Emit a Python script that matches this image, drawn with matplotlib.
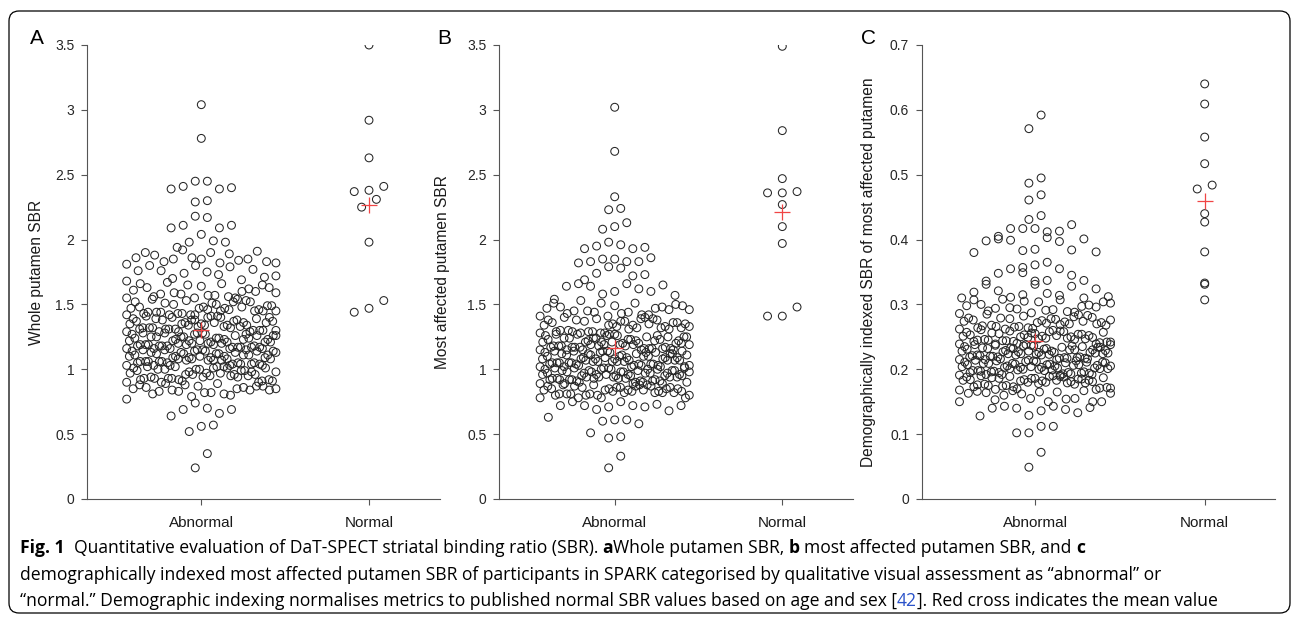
import numpy as np
import matplotlib
matplotlib.use("Agg")
import matplotlib.pyplot as plt
from matplotlib.patches import FancyBboxPatch
from matplotlib.transforms import IdentityTransform

# ---------------- data ----------------
categories = ["Abnormal", "Normal"]

whole_abnormal = [
    3.04, 2.78, 2.45, 2.45, 2.41, 2.40, 2.39, 2.39, 2.30, 2.29, 2.18, 2.17, 2.11, 2.11, 2.09, 2.09,
    2.04, 1.99, 1.98, 1.98, 1.94, 1.92, 1.91, 1.90, 1.90,
    1.89, 1.88, 1.86, 1.86, 1.85, 1.85, 1.85, 1.84, 1.83, 1.83, 1.82, 1.82, 1.81, 1.80, 1.80,
    1.79, 1.77, 1.76, 1.76, 1.75, 1.74, 1.73, 1.72, 1.71, 1.70,
    1.69, 1.68, 1.67, 1.66, 1.66, 1.65, 1.65, 1.64, 1.63, 1.63, 1.62, 1.61, 1.60, 1.60,
    1.59, 1.59, 1.58, 1.58, 1.57, 1.57, 1.56, 1.56, 1.55, 1.55, 1.55, 1.54, 1.54, 1.53, 1.53, 1.52,
    1.52, 1.52, 1.51, 1.51, 1.50, 1.50,
    1.49, 1.49, 1.48, 1.48, 1.48, 1.47, 1.47, 1.47, 1.46, 1.46, 1.46, 1.45, 1.45, 1.45, 1.45, 1.44,
    1.44, 1.44, 1.43, 1.43, 1.43, 1.42, 1.42, 1.42, 1.42, 1.41, 1.41, 1.41, 1.40, 1.40, 1.40, 1.40,
    1.39, 1.39, 1.39, 1.38, 1.38, 1.38, 1.38, 1.37, 1.37, 1.37, 1.36, 1.36, 1.36, 1.36, 1.35, 1.35,
    1.35, 1.34, 1.34, 1.34, 1.34, 1.33, 1.33, 1.33, 1.32, 1.32, 1.32, 1.32, 1.31, 1.31, 1.31, 1.31,
    1.30, 1.30, 1.30, 1.30,
    1.29, 1.29, 1.29, 1.29, 1.28, 1.28, 1.28, 1.28, 1.27, 1.27, 1.27, 1.27, 1.26, 1.26, 1.26, 1.26,
    1.25, 1.25, 1.25, 1.25, 1.24, 1.24, 1.24, 1.24, 1.23, 1.23, 1.23, 1.23, 1.22, 1.22, 1.22, 1.22,
    1.21, 1.21, 1.21, 1.21, 1.20, 1.20, 1.20, 1.20,
    1.19, 1.19, 1.19, 1.19, 1.19, 1.18, 1.18, 1.18, 1.18, 1.18, 1.17, 1.17, 1.17, 1.17, 1.17, 1.16,
    1.16, 1.16, 1.16, 1.16, 1.15, 1.15, 1.15, 1.15, 1.15, 1.14, 1.14, 1.14, 1.14, 1.14, 1.13, 1.13,
    1.13, 1.13, 1.12, 1.12, 1.12, 1.12, 1.11, 1.11, 1.11, 1.11, 1.10, 1.10, 1.10, 1.10,
    1.09, 1.09, 1.09, 1.09, 1.08, 1.08, 1.08, 1.08, 1.07, 1.07, 1.07, 1.07, 1.06, 1.06, 1.06, 1.06,
    1.06, 1.05, 1.05, 1.05, 1.05, 1.04, 1.04, 1.04, 1.04, 1.03, 1.03, 1.03, 1.03, 1.03, 1.02, 1.02,
    1.02, 1.02, 1.01, 1.01, 1.01, 1.01, 1.00, 1.00, 1.00, 1.00,
    0.99, 0.99, 0.99, 0.98, 0.98, 0.98, 0.97, 0.97, 0.97, 0.96, 0.96, 0.96, 0.96, 0.95, 0.95, 0.95,
    0.94, 0.94, 0.94, 0.93, 0.93, 0.93, 0.93, 0.92, 0.92, 0.92, 0.91, 0.91, 0.91, 0.90, 0.90, 0.90,
    0.89, 0.89, 0.88, 0.88, 0.87, 0.87, 0.87, 0.86, 0.86, 0.85, 0.85, 0.85, 0.84, 0.84, 0.84, 0.83,
    0.83, 0.82, 0.82, 0.81, 0.81, 0.80,
    0.79, 0.77, 0.74, 0.70, 0.69, 0.69, 0.66, 0.64, 0.57, 0.56, 0.52, 0.35, 0.24,
]
whole_normal = [3.50, 2.92, 2.63, 2.41, 2.38, 2.37, 2.31, 2.25, 1.98, 1.53, 1.47, 1.44]

most_abnormal = [
    3.02, 2.68, 2.33, 2.24, 2.23, 2.13, 2.10, 2.08, 1.98, 1.96, 1.95, 1.94, 1.93, 1.93, 1.86, 1.85,
    1.85, 1.83, 1.83, 1.83, 1.82, 1.79, 1.78, 1.74, 1.73, 1.72, 1.69, 1.66, 1.66, 1.65, 1.64, 1.64,
    1.62, 1.60, 1.60, 1.58, 1.57, 1.54, 1.53, 1.51, 1.51, 1.51, 1.50,
    1.49, 1.49, 1.48, 1.48, 1.47, 1.47, 1.46, 1.46, 1.45, 1.45, 1.44, 1.44, 1.43, 1.43, 1.42, 1.42,
    1.41, 1.41, 1.40, 1.40,
    1.39, 1.39, 1.39, 1.38, 1.38, 1.38, 1.37, 1.37, 1.37, 1.36, 1.36, 1.36, 1.35, 1.35, 1.35, 1.34,
    1.34, 1.34, 1.33, 1.33, 1.33, 1.32, 1.32, 1.32, 1.31, 1.31, 1.30, 1.30,
    1.29, 1.29, 1.29, 1.29, 1.28, 1.28, 1.28, 1.28, 1.27, 1.27, 1.27, 1.27, 1.26, 1.26, 1.26, 1.26,
    1.25, 1.25, 1.25, 1.25, 1.24, 1.24, 1.24, 1.24, 1.23, 1.23, 1.23, 1.23, 1.22, 1.22, 1.22, 1.22,
    1.21, 1.21, 1.21, 1.21, 1.20, 1.20, 1.20, 1.20,
    1.19, 1.19, 1.19, 1.19, 1.19, 1.18, 1.18, 1.18, 1.18, 1.18, 1.17, 1.17, 1.17, 1.17, 1.17, 1.16,
    1.16, 1.16, 1.16, 1.16, 1.15, 1.15, 1.15, 1.15, 1.15, 1.14, 1.14, 1.14, 1.14, 1.14, 1.13, 1.13,
    1.13, 1.13, 1.13, 1.12, 1.12, 1.12, 1.12, 1.12, 1.11, 1.11, 1.11, 1.11, 1.10, 1.10, 1.10, 1.10,
    1.09, 1.09, 1.09, 1.09, 1.09, 1.08, 1.08, 1.08, 1.08, 1.08, 1.07, 1.07, 1.07, 1.07, 1.07, 1.06,
    1.06, 1.06, 1.06, 1.06, 1.05, 1.05, 1.05, 1.05, 1.05, 1.04, 1.04, 1.04, 1.04, 1.04, 1.03, 1.03,
    1.03, 1.03, 1.03, 1.02, 1.02, 1.02, 1.02, 1.02, 1.01, 1.01, 1.01, 1.01, 1.01, 1.00, 1.00, 1.00,
    1.00, 1.00,
    0.99, 0.99, 0.99, 0.99, 0.99, 0.98, 0.98, 0.98, 0.98, 0.98, 0.97, 0.97, 0.97, 0.97, 0.97, 0.96,
    0.96, 0.96, 0.96, 0.96, 0.95, 0.95, 0.95, 0.95, 0.95, 0.94, 0.94, 0.94, 0.94, 0.94, 0.93, 0.93,
    0.93, 0.93, 0.93, 0.92, 0.92, 0.92, 0.92, 0.92, 0.91, 0.91, 0.91, 0.91, 0.90, 0.90, 0.90, 0.90,
    0.89, 0.89, 0.89, 0.89, 0.88, 0.88, 0.88, 0.88, 0.87, 0.87, 0.87, 0.87, 0.86, 0.86, 0.86, 0.86,
    0.85, 0.85, 0.85, 0.85, 0.84, 0.84, 0.84, 0.84, 0.83, 0.83, 0.83, 0.83, 0.82, 0.82, 0.82, 0.82,
    0.81, 0.81, 0.81, 0.81, 0.80, 0.80, 0.80, 0.80,
    0.78, 0.78, 0.78, 0.78, 0.75, 0.75, 0.73, 0.72, 0.72, 0.72, 0.72, 0.71, 0.71, 0.69, 0.68, 0.63,
    0.61, 0.61, 0.60, 0.58, 0.51, 0.48, 0.47, 0.33, 0.24,
]
most_normal = [3.49, 2.84, 2.47, 2.36, 2.36, 2.37, 2.27, 2.10, 1.97, 1.48, 1.41, 1.41]

demo_abnormal = [
    0.592, 0.571, 0.495, 0.487, 0.469, 0.461, 0.437, 0.431, 0.423, 0.417, 0.417, 0.417, 0.413, 0.412,
    0.405, 0.403, 0.401, 0.401, 0.399, 0.398, 0.397, 0.385, 0.384, 0.383, 0.381, 0.380, 0.365, 0.361,
    0.357, 0.355, 0.355, 0.349, 0.348, 0.345, 0.337, 0.337, 0.336, 0.336, 0.331, 0.331, 0.328, 0.324,
    0.321,
    0.319, 0.317, 0.315, 0.314, 0.312, 0.311, 0.310, 0.310, 0.308, 0.307, 0.307, 0.305, 0.304, 0.304,
    0.302, 0.300,
    0.299, 0.298, 0.297, 0.296, 0.295, 0.294, 0.293, 0.292, 0.291, 0.290, 0.289, 0.288, 0.287, 0.286,
    0.285, 0.284, 0.283, 0.282, 0.281, 0.280,
    0.279, 0.279, 0.278, 0.278, 0.277, 0.276, 0.276, 0.275, 0.274, 0.274, 0.273, 0.272, 0.272, 0.271,
    0.270, 0.270, 0.269, 0.268, 0.268, 0.267, 0.266, 0.266, 0.265, 0.264, 0.264, 0.263, 0.262, 0.262,
    0.261, 0.260,
    0.259, 0.259, 0.258, 0.258, 0.257, 0.257, 0.256, 0.256, 0.255, 0.255, 0.254, 0.254, 0.253, 0.253,
    0.252, 0.252, 0.251, 0.251, 0.250, 0.250, 0.249, 0.249, 0.248, 0.248, 0.247, 0.247, 0.246, 0.246,
    0.245, 0.245, 0.244, 0.244, 0.243, 0.243, 0.242, 0.242, 0.241, 0.240,
    0.239, 0.239, 0.239, 0.238, 0.238, 0.238, 0.237, 0.237, 0.236, 0.236, 0.236, 0.235, 0.235, 0.234,
    0.234, 0.234, 0.233, 0.233, 0.232, 0.232, 0.232, 0.231, 0.231, 0.230, 0.230, 0.230, 0.229, 0.229,
    0.228, 0.228, 0.228, 0.227, 0.227, 0.226, 0.226, 0.226, 0.225, 0.225, 0.224, 0.224, 0.224, 0.223,
    0.223, 0.222, 0.222, 0.222, 0.221, 0.221, 0.220, 0.220,
    0.219, 0.219, 0.219, 0.218, 0.218, 0.217, 0.217, 0.217, 0.216, 0.216, 0.215, 0.215, 0.215, 0.214,
    0.214, 0.213, 0.213, 0.213, 0.212, 0.212, 0.211, 0.211, 0.211, 0.210, 0.210, 0.209, 0.209, 0.209,
    0.208, 0.208, 0.207, 0.207, 0.207, 0.206, 0.206, 0.205, 0.205, 0.205, 0.204, 0.204, 0.203, 0.203,
    0.203, 0.202, 0.202, 0.201, 0.201, 0.201, 0.200, 0.200,
    0.199, 0.199, 0.198, 0.198, 0.198, 0.197, 0.197, 0.196, 0.196, 0.195, 0.195, 0.195, 0.194, 0.194,
    0.193, 0.193, 0.192, 0.192, 0.192, 0.191, 0.191, 0.190, 0.190, 0.189, 0.189, 0.189, 0.188, 0.188,
    0.187, 0.187, 0.186, 0.186, 0.186, 0.185, 0.185, 0.184, 0.184, 0.183, 0.183, 0.183, 0.182, 0.182,
    0.181, 0.181, 0.180, 0.180,
    0.179, 0.179, 0.178, 0.177, 0.177, 0.176, 0.175, 0.175, 0.174, 0.173, 0.173, 0.172, 0.171, 0.171,
    0.170, 0.169, 0.169, 0.168, 0.167, 0.167, 0.166, 0.165, 0.165, 0.164, 0.163, 0.162,
    0.163, 0.160, 0.155, 0.155, 0.154, 0.153, 0.150, 0.150, 0.150, 0.150, 0.143, 0.143, 0.141, 0.140,
    0.140, 0.138, 0.136, 0.133, 0.129, 0.128, 0.112, 0.112, 0.102, 0.102, 0.072, 0.049,
]
demo_normal = [0.640, 0.609, 0.558, 0.517, 0.484, 0.478, 0.440, 0.427, 0.381, 0.333, 0.331, 0.307]

panel_letters = ["A", "B", "C"]
y_labels = ["Whole putamen SBR", "Most affected putamen SBR",
            "Demographically indexed SBR of most affected putamen"]
sbr_ticks = [0, 0.5, 1, 1.5, 2, 2.5, 3, 3.5]
sbr_tick_labels = ["0", "0.5", "1", "1.5", "2", "2.5", "3", "3.5"]
demo_ticks = [0, 0.1, 0.2, 0.3, 0.4, 0.5, 0.6, 0.7]
demo_tick_labels = ["0", "0.1", "0.2", "0.3", "0.4", "0.5", "0.6", "0.7"]

panels = [
    dict(abn=whole_abnormal, nor=whole_normal, ticks=sbr_ticks, tlabels=sbr_tick_labels, ymax=3.5),
    dict(abn=most_abnormal, nor=most_normal, ticks=sbr_ticks, tlabels=sbr_tick_labels, ymax=3.5),
    dict(abn=demo_abnormal, nor=demo_normal, ticks=demo_ticks, tlabels=demo_tick_labels, ymax=0.7),
]

# ---------------- layout (pixels) ----------------
W, H = 1292, 618
AX_TOP, AX_BOT = 45, 499
# left edge, right edge, pixel position of category 1 and 2
layout = [(87, 440, 201.3, 369.0), (499, 853, 614.7, 782.3), (921.7, 1275, 1035.0, 1204.7)]
letter_pos = [(37, 39), (444, 39), (869, 39)]
ylabel_x = [44, 450, 876]

AX_FONT = "Liberation Sans"
CAP_FONT = "Open Sans"


def spread_x(values, center, vmin, binw, step, wmax):
    """plotSpread-like layout: values binned, points spread across x inside each bin."""
    v = np.asarray(values, dtype=float)
    x = np.full(v.size, float(center))
    idx = np.floor((v - vmin) / binw + 1e-9).astype(int)
    for b in np.unique(idx):
        mem = np.where(idx == b)[0]
        n = mem.size
        if n < 2:
            continue
        w = min(wmax, (n - 1) * step)
        slots = np.linspace(-w / 2, w / 2, n)
        k = np.arange(n)
        # deterministic, irregular slot order (quadratic low-discrepancy sequence)
        perm = np.argsort((0.5 * k * k * 0.6180339887 + 0.31 * k) % 1.0, kind="stable")
        mem_sorted = mem[np.argsort(v[mem], kind="stable")]
        x[mem_sorted] = center + slots[perm]
    return x


fig = plt.figure(figsize=(W / 100, H / 100), dpi=100)
fig.patch.set_facecolor("white")

for i, p in enumerate(panels):
    left, right, t1, t2 = layout[i]
    ax = fig.add_axes([left / W, 1 - AX_BOT / H, (right - left) / W, (AX_BOT - AX_TOP) / H])
    scale = t2 - t1
    ax.set_xlim(1 - (t1 - left) / scale, 2 + (right - t2) / scale)
    ax.set_ylim(0, p["ymax"])

    allv = np.concatenate([p["abn"], p["nor"]])
    vmin = allv.min()
    binw = 0.04 * (allv.max() - allv.min())

    xa = spread_x(p["abn"], 1, vmin, binw, 0.072, 0.89)
    xn = spread_x(p["nor"], 2, vmin, binw, 0.088, 0.89)
    for xs, ys in ((xa, p["abn"]), (xn, p["nor"])):
        ax.scatter(xs, ys, s=32, facecolors="none", edgecolors="#262626",
                   linewidths=0.75, zorder=2)
    ax.plot([1, 2], [np.mean(p["abn"]), np.mean(p["nor"])], linestyle="none",
            marker="+", ms=12, mew=0.9, color="#f04545", zorder=3)

    ax.set_xticks([1, 2])
    ax.set_xticklabels(categories, fontsize=11, family=AX_FONT, color="#1a1a1a")
    ax.set_yticks(p["ticks"])
    ax.set_yticklabels(p["tlabels"], fontsize=10, family=AX_FONT, color="#262626")
    ax.tick_params(direction="out", length=4, width=0.8, color="#555555")
    ax.tick_params(axis="y", pad=5)
    ax.tick_params(axis="x", pad=8)
    for s in ("top", "right"):
        ax.spines[s].set_visible(False)
    for s in ("left", "bottom"):
        ax.spines[s].set_color("#555555")
        ax.spines[s].set_linewidth(0.8)
    ax.set_ylabel(y_labels[i], fontsize=11.2, family=AX_FONT, color="#1a1a1a")
    ax.yaxis.set_label_coords((ylabel_x[i] - left) / (right - left), 0.5)

    lx, ly = letter_pos[i]
    fig.text(lx / W, 1 - ly / H, panel_letters[i], fontsize=15, family=AX_FONT,
             ha="center", va="center", color="black")

# ---------------- caption ----------------
fig.canvas.draw()
renderer = fig.canvas.get_renderer()


def text_w(s, size, weight="normal"):
    t = fig.text(0, 0, s, fontsize=size, fontweight=weight, family=CAP_FONT)
    w = t.get_window_extent(renderer).width
    t.remove()
    return w


SP = None  # marker for a space
caption_lines = [
    [("Fig. 1", "bold", "black"), SP, SP,
     ("Quantitative evaluation of DaT-SPECT striatal binding ratio (SBR).", "normal", "black"), SP,
     ("a", "bold", "black"), ("Whole putamen SBR,", "normal", "black"), SP,
     ("b", "bold", "black"), SP, ("most affected putamen SBR, and", "normal", "black"), SP,
     ("c", "bold", "black")],
    [("demographically indexed most affected putamen SBR of participants in SPARK categorised "
      "by qualitative visual assessment as \u201cabnormal\u201d or", "normal", "black")],
    [("\u201cnormal.\u201d Demographic indexing normalises metrics to published normal SBR values "
      "based on age and sex [", "normal", "black"), ("42", "normal", "#2a52c9"),
     ("]. Red cross indicates the mean value", "normal", "black")],
]
cap_baselines = [553, 580, 606]
cap_x0 = 20
target_w = 1217 - cap_x0

base = 12.0


def line_width(runs, size):
    sp = text_w("| |", size) - text_w("||", size)
    tot = 0.0
    for r in runs:
        tot += sp if r is None else text_w(r[0], size, r[1])
    return tot


cap_size = base * target_w / line_width(caption_lines[2], base)
space_w = text_w("| |", cap_size) - text_w("||", cap_size)

for runs, yb in zip(caption_lines, cap_baselines):
    x = cap_x0
    for r in runs:
        if r is None:
            x += space_w
            continue
        s, wt, col = r
        fig.text(x / W, 1 - yb / H, s, fontsize=cap_size, fontweight=wt, family=CAP_FONT,
                 color=col, ha="left", va="baseline")
        x += text_w(s, cap_size, wt)

# ---------------- frame ----------------
frame = FancyBboxPatch((9, 5), 1281, 602, boxstyle="round,pad=0,rounding_size=10",
                       transform=IdentityTransform(), fill=False, lw=0.9, ec="black")
fig.patches.append(frame)

fig.savefig("out.png", dpi=100, facecolor="white")
